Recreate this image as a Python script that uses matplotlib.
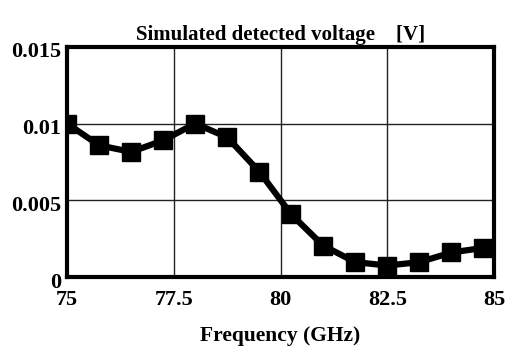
import matplotlib
matplotlib.use("Agg")
import matplotlib.pyplot as plt
import matplotlib.transforms as mtransforms

freq_ghz = [75.0, 75.75, 76.5, 77.25, 78.0, 78.75, 79.5, 80.25, 81.0, 81.75, 82.5, 83.25, 84.0, 84.75]
voltage_v = [0.0100, 0.00858, 0.00815, 0.0089, 0.0100, 0.0091, 0.00687, 0.00408, 0.00204, 0.00097, 0.00075, 0.00097, 0.0016, 0.0019]
x_ticks = [75, 77.5, 80, 82.5, 85]
x_tick_labels = ["75", "77.5", "80", "82.5", "85"]
y_ticks = [0, 0.005, 0.01, 0.015]
y_tick_labels = ["0", "0.005", "0.01", "0.015"]

plt.rcParams['font.family'] = ['Liberation Serif', 'DejaVu Serif']
plt.rcParams['font.weight'] = 'bold'

fig = plt.figure(figsize=(5.24, 3.57), dpi=100)
ax = fig.add_axes([0.128, 0.224, 0.815, 0.645])
ax.plot(freq_ghz, voltage_v, color='black', lw=4.5, marker='s', markersize=13,
        markerfacecolor='black', markeredgecolor='black', zorder=3, clip_on=True)
ax.set_xlim(75, 85)
ax.set_ylim(0, 0.015)
ax.set_xticks(x_ticks)
ax.set_xticklabels(x_tick_labels, fontsize=16, fontweight='bold')
ax.set_yticks(y_ticks)
ax.set_yticklabels(y_tick_labels, fontsize=16, fontweight='bold')
ax.tick_params(axis='x', length=0, pad=9)
ax.tick_params(axis='y', length=0, pad=4)
offset = mtransforms.ScaledTranslation(0, -3 / 100, fig.dpi_scale_trans)
for lab in ax.get_yticklabels():
    lab.set_transform(lab.get_transform() + offset)
ax.grid(True, color='#222222', lw=1.0)
for s in ax.spines.values():
    s.set_linewidth(3)
    s.set_color('black')
ax.set_title("Simulated detected voltage    [V]", fontsize=15, fontweight='bold', pad=5)
ax.set_xlabel("Frequency (GHz)", fontsize=15.5, fontweight='bold', labelpad=12)
fig.savefig("out.png", dpi=100)
